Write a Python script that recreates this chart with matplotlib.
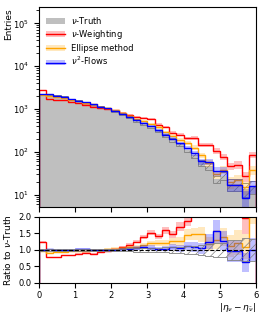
import matplotlib
matplotlib.use("Agg")
import matplotlib.pyplot as plt
from matplotlib.patches import Patch
from matplotlib.lines import Line2D
import numpy as np

# |eta_nu - eta_nubar| binning, 30 bins of 0.2
bin_edges = np.linspace(0, 6, 31)

# Entries per bin
truth = [2250, 2200, 2050, 1950, 1700, 1550, 1400, 1300, 1130, 1050,
         900, 770, 640, 530, 450, 380, 310, 245, 190, 150,
         110, 85, 57, 47, 23, 28, 18, 18, 13.7, 16]
weighting = [2790, 1716, 1600, 1640, 1430, 1365, 1275, 1145, 1060, 1030,
             927, 830, 736, 662, 630, 578, 437, 390, 281, 255,
             208, 210, 146, 146, 107, 78, 47, 50, 27, 85]
ellipse = [2183, 2002, 1907, 1853, 1632, 1504, 1372, 1287, 1130, 1071,
           936, 809, 691, 583, 518, 456, 375, 294, 239, 189,
           161, 126, 84, 55, 30, 39, 20, 22, 15, 38]
flows = [2250, 2244, 2050, 1950, 1700, 1581, 1428, 1300, 1119, 1050,
         900, 785, 666, 562, 486, 407, 319, 255, 205, 158,
         122, 93, 60, 59, 36, 36, 17.3, 17.3, 8.6, 16]

# Relative uncertainties per bin
truth_rel = [0.02, 0.02, 0.02, 0.02, 0.025, 0.025, 0.03, 0.03, 0.03, 0.035,
             0.04, 0.04, 0.045, 0.05, 0.055, 0.06, 0.07, 0.075, 0.085, 0.1,
             0.11, 0.13, 0.16, 0.18, 0.2, 0.2, 0.3, 0.3, 0.35, 0.33]
weighting_rel = [0.02, 0.02, 0.02, 0.02, 0.02, 0.025, 0.025, 0.03, 0.03, 0.03,
                 0.035, 0.035, 0.04, 0.04, 0.045, 0.05, 0.06, 0.06, 0.07, 0.08,
                 0.09, 0.1, 0.12, 0.12, 0.14, 0.16, 0.2, 0.2, 0.25, 0.15]
ellipse_rel = [0.02, 0.02, 0.02, 0.02, 0.025, 0.025, 0.03, 0.03, 0.03, 0.035,
               0.04, 0.04, 0.045, 0.05, 0.055, 0.06, 0.07, 0.075, 0.085, 0.1,
               0.11, 0.13, 0.15, 0.18, 0.22, 0.2, 0.3, 0.3, 0.35, 0.25]
flows_rel = [0.02, 0.02, 0.02, 0.02, 0.025, 0.025, 0.03, 0.03, 0.03, 0.035,
             0.04, 0.04, 0.045, 0.05, 0.055, 0.06, 0.07, 0.075, 0.085, 0.1,
             0.11, 0.13, 0.16, 0.18, 0.22, 0.22, 0.33, 0.33, 0.45, 0.35]

methods = [
    (r"$\nu$-Weighting", weighting, weighting_rel, "red"),
    ("Ellipse method", ellipse, ellipse_rel, "orange"),
    (r"$\nu^2$-Flows", flows, flows_rel, "blue"),
]

plt.rcParams["font.size"] = 6
plt.rcParams["hatch.linewidth"] = 0.5

fig = plt.figure(figsize=(2.66, 3.19), dpi=100)
ax = fig.add_axes([0.1466, 0.351, 0.8158, 0.627])
rax = fig.add_axes([0.1466, 0.113, 0.8158, 0.207], sharex=ax)

truth = np.array(truth, dtype=float)
truth_rel = np.array(truth_rel)

# Top panel: distributions
ax.stairs(truth, bin_edges, fill=True, color="#bfbfbf", linewidth=0)
ax.stairs(truth * (1 + truth_rel), bin_edges, baseline=truth * (1 - truth_rel),
          fill=True, facecolor="none", edgecolor="grey", hatch="////", linewidth=0.6)

handles = [Patch(facecolor="#bfbfbf", edgecolor="none")]
labels = [r"$\nu$-Truth"]
for label, vals, rel, col in methods:
    vals = np.array(vals, dtype=float)
    rel = np.array(rel)
    ax.stairs(vals * (1 + rel), bin_edges, baseline=vals * (1 - rel),
              fill=True, color=col, alpha=0.25, linewidth=0)
    ax.stairs(vals, bin_edges, color=col, linewidth=1.0)

    ratio = vals / truth
    rax.stairs(ratio * (1 + rel), bin_edges, baseline=ratio * (1 - rel),
               fill=True, color=col, alpha=0.25, linewidth=0)
    rax.stairs(ratio, bin_edges, color=col, linewidth=1.0)

    handles.append((Patch(facecolor=col, alpha=0.25, edgecolor="none"),
                    Line2D([], [], color=col, linewidth=1.0)))
    labels.append(label)

ax.set_yscale("log")
ax.set_ylim(5.2, 2.4e5)
ax.set_xlim(0, 6)
ax.set_ylabel("Entries", fontsize=6.5, loc="top")
ax.yaxis.set_label_coords(-0.118, 0.995)
ax.tick_params(labelbottom=False, labelsize=6)
ax.legend(handles, labels, loc="upper left", frameon=False, fontsize=6,
          handlelength=2.2, borderaxespad=0.5, labelspacing=0.3)

# Bottom panel: ratio to truth
rax.stairs(1 + truth_rel, bin_edges, baseline=1 - truth_rel,
           fill=True, facecolor="none", edgecolor="grey", hatch="////", linewidth=0.6)
rax.axhline(1.0, color="black", linestyle="--", linewidth=0.8)
rax.set_ylim(0, 2)
rax.set_yticks([0, 0.5, 1.0, 1.5, 2.0])
rax.set_xticks(range(7))
rax.tick_params(labelsize=6, pad=2)
rax.set_ylabel(r"Ratio to $\nu$-Truth", fontsize=6.5)
rax.set_xlabel(r"$|\eta_\nu - \eta_{\bar{\nu}}|$", fontsize=6.5, loc="right")
rax.xaxis.set_label_coords(1.0, -0.27)
rax.xaxis.label.set_va("top")

fig.savefig("out.png", dpi=100)
